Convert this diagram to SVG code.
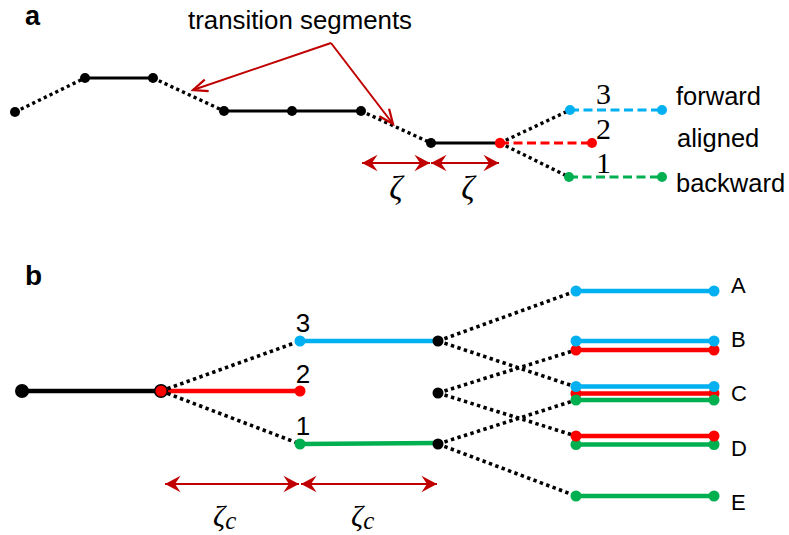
<svg xmlns="http://www.w3.org/2000/svg" width="789" height="535" viewBox="0 0 789 535">
<defs>
<style>
.sans{font-family:"Liberation Sans",Arial,sans-serif;fill:#000}
.serif{font-family:"Liberation Serif","Times New Roman",serif;fill:#000}
.zeta{font-family:"Liberation Serif","DejaVu Serif",serif;font-style:italic;fill:#000}
.dot{stroke:#000;stroke-width:3.4;stroke-dasharray:3.2 3.2;fill:none}
.dotb{stroke:#000;stroke-width:3.6;stroke-dasharray:3.4 3.4;fill:none}
.solid{stroke:#000;stroke-width:3.2;fill:none}
.dash{stroke-width:3.2;stroke-dasharray:9 4.5;fill:none}
.lb{stroke-width:4.3;fill:none}
.arr{stroke:#C00000;stroke-width:2;fill:none}
.blue{stroke:#00B0F0}
.red{stroke:#FF0000}
.green{stroke:#00B050}
.fblue{fill:#00B0F0}
.fred{fill:#FF0000}
.fgreen{fill:#00B050}
.fblack{fill:#000}
</style>
<marker id="open" markerUnits="userSpaceOnUse" markerWidth="20" markerHeight="20" viewBox="-16 -8 18 16" refX="0" refY="0" orient="auto">
<path d="M-13,-5.5 L0,0 L-13,5.5" fill="none" stroke="#C00000" stroke-width="2"/>
</marker>
<marker id="stealth" markerUnits="userSpaceOnUse" markerWidth="20" markerHeight="20" viewBox="-16 -9 18 18" refX="0" refY="0" orient="auto-start-reverse">
<path d="M0,0 L-14,-7.5 L-9,0 L-14,7.5 Z" fill="#C00000"/>
</marker>
</defs>
<rect width="789" height="535" fill="#fff"/>

<!-- Panel a connectors -->
<g id="connectors-a">
<line class="dot" x1="15" y1="112" x2="85" y2="78"/>
<line class="solid" x1="85" y1="78" x2="153" y2="78"/>
<line class="dot" x1="153" y1="78" x2="224" y2="111"/>
<line class="solid" x1="224" y1="111" x2="361" y2="111"/>
<line class="dot" x1="361" y1="111" x2="431" y2="143"/>
<line class="solid" x1="431" y1="143" x2="500" y2="143"/>
<line class="dot" x1="500" y1="143" x2="570" y2="110"/>
<line class="dot" x1="500" y1="143" x2="569" y2="177"/>
<line class="dash blue" x1="570" y1="110" x2="662" y2="110"/>
<line class="dash red" x1="500" y1="143" x2="592" y2="143"/>
<line class="dash green" x1="569" y1="177" x2="662" y2="177"/>
<line class="arr" x1="331" y1="43" x2="393" y2="124" marker-end="url(#open)"/>
<line class="arr" x1="331" y1="43" x2="193" y2="90" marker-end="url(#open)"/>
<line class="arr" x1="362" y1="163" x2="430" y2="163" marker-start="url(#stealth)" marker-end="url(#stealth)"/>
<line class="arr" x1="431" y1="163" x2="499" y2="163" marker-start="url(#stealth)" marker-end="url(#stealth)"/>
</g>

<!-- Panel a nodes -->
<g id="a-n0"><circle class="fblack" cx="15" cy="112" r="5"/></g>
<g id="a-n1"><circle class="fblack" cx="85" cy="78" r="5"/></g>
<g id="a-n2"><circle class="fblack" cx="153" cy="78" r="5"/></g>
<g id="a-n3"><circle class="fblack" cx="224" cy="111" r="5"/></g>
<g id="a-n4"><circle class="fblack" cx="292" cy="111" r="5"/></g>
<g id="a-n5"><circle class="fblack" cx="361" cy="111" r="5"/></g>
<g id="a-n6"><circle class="fblack" cx="431" cy="143" r="5"/></g>
<g id="a-n7"><circle class="fred" cx="500" cy="143" r="5.2"/></g>
<g id="a-fwd"><circle class="fblue" cx="570" cy="110" r="5"/><circle class="fblue" cx="662" cy="110" r="5"/></g>
<g id="a-ali"><circle class="fred" cx="592" cy="143" r="5"/></g>
<g id="a-bwd"><circle class="fgreen" cx="569" cy="177" r="5"/><circle class="fgreen" cx="662" cy="177" r="5"/></g>

<!-- Panel a texts -->
<g id="a-texts">
<text class="sans" x="25" y="25" font-size="27" font-weight="bold">a</text>
<text class="sans" x="188" y="29" font-size="25" textLength="224" lengthAdjust="spacingAndGlyphs">transition segments</text>
<text class="serif" x="596" y="104" font-size="30">3</text>
<text class="serif" x="596" y="139" font-size="30">2</text>
<text class="serif" x="596" y="173" font-size="30">1</text>
<text class="sans" x="676" y="105" font-size="25.5">forward</text>
<text class="sans" x="677" y="147" font-size="25.5">aligned</text>
<text class="sans" x="676" y="192" font-size="25.5">backward</text>
<text class="zeta" x="396" y="199" font-size="33" text-anchor="middle">ζ</text>
<text class="zeta" x="468" y="199" font-size="33" text-anchor="middle">ζ</text>
</g>

<!-- Panel b connectors -->
<g id="connectors-b">
<line class="lb" stroke="#000" stroke-width="4.8" x1="22" y1="391" x2="161" y2="391"/>
<line class="lb red" x1="161" y1="391" x2="300" y2="391"/>
<line class="dotb" x1="161" y1="391" x2="300" y2="341"/>
<line class="dotb" x1="161" y1="391" x2="300" y2="444"/>
<line class="lb blue" x1="300" y1="341" x2="438" y2="341"/>
<line class="lb green" x1="300" y1="444" x2="438" y2="443"/>
<line class="dotb" x1="438" y1="341" x2="576" y2="291"/>
<line class="dotb" x1="438" y1="341" x2="576" y2="387"/>
<line class="dotb" x1="438" y1="393" x2="576" y2="350"/>
<line class="dotb" x1="438" y1="393" x2="576" y2="436"/>
<line class="dotb" x1="438" y1="444" x2="576" y2="400"/>
<line class="dotb" x1="438" y1="444" x2="576" y2="496"/>
<line class="arr" x1="165" y1="484" x2="299" y2="484" marker-start="url(#stealth)" marker-end="url(#stealth)"/>
<line class="arr" x1="301" y1="484" x2="437" y2="484" marker-start="url(#stealth)" marker-end="url(#stealth)"/>
</g>

<!-- Panel b nodes -->
<g id="b-start"><circle class="fblack" cx="22" cy="391" r="7"/></g>
<g id="b-split"><circle class="fred" cx="161" cy="391" r="6.3" stroke="#000" stroke-width="1.5"/></g>
<g id="b-n3"><circle class="fblue" cx="300" cy="341" r="5.5"/></g>
<g id="b-n2"><circle class="fred" cx="300" cy="391" r="5.5"/></g>
<g id="b-n1"><circle class="fgreen" cx="300" cy="444" r="5.5"/></g>
<g id="b-m3"><circle class="fblack" cx="438" cy="341" r="5.5"/></g>
<g id="b-m2"><circle class="fblack" cx="438" cy="393" r="5.5"/></g>
<g id="b-m1"><circle class="fblack" cx="438" cy="444" r="5.5"/></g>
<g id="b-A">
<line class="lb blue" x1="576" y1="291" x2="714" y2="291"/>
<circle class="fblue" cx="576" cy="291" r="5.5"/><circle class="fblue" cx="714" cy="291" r="5.5"/>
</g>
<g id="b-B">
<line class="lb red" x1="576" y1="350" x2="714" y2="350"/>
<circle class="fred" cx="576" cy="350" r="5.5"/><circle class="fred" cx="714" cy="350" r="5.5"/>
<line class="lb blue" x1="576" y1="341" x2="714" y2="341"/>
<circle class="fblue" cx="576" cy="341" r="5.5"/><circle class="fblue" cx="714" cy="341" r="5.5"/>
</g>
<g id="b-C">
<line class="lb red" x1="576" y1="393.5" x2="714" y2="393.5"/>
<circle class="fred" cx="576" cy="393.5" r="5.5"/><circle class="fred" cx="714" cy="393.5" r="5.5"/>
<line class="lb blue" x1="576" y1="386.5" x2="714" y2="386.5"/>
<circle class="fblue" cx="576" cy="386.5" r="5.5"/><circle class="fblue" cx="714" cy="386.5" r="5.5"/>
<line class="lb green" x1="576" y1="400" x2="714" y2="400"/>
<circle class="fgreen" cx="576" cy="400" r="5.5"/><circle class="fgreen" cx="714" cy="400" r="5.5"/>
</g>
<g id="b-D">
<line class="lb green" x1="576" y1="444.5" x2="714" y2="444.5"/>
<circle class="fgreen" cx="576" cy="444.5" r="5.5"/><circle class="fgreen" cx="714" cy="444.5" r="5.5"/>
<line class="lb red" x1="576" y1="436" x2="714" y2="436"/>
<circle class="fred" cx="576" cy="436" r="5.5"/><circle class="fred" cx="714" cy="436" r="5.5"/>
</g>
<g id="b-E">
<line class="lb green" x1="576" y1="496" x2="714" y2="496"/>
<circle class="fgreen" cx="576" cy="496" r="5.5"/><circle class="fgreen" cx="714" cy="496" r="5.5"/>
</g>

<!-- Panel b texts -->
<g id="b-texts">
<text class="sans" x="25" y="285" font-size="28" font-weight="bold">b</text>
<text class="sans" x="303" y="332" font-size="26" text-anchor="middle">3</text>
<text class="sans" x="303" y="383" font-size="26" text-anchor="middle">2</text>
<text class="sans" x="303" y="435" font-size="26" text-anchor="middle">1</text>
<text class="sans" x="731" y="293" font-size="22">A</text>
<text class="sans" x="731" y="347" font-size="22">B</text>
<text class="sans" x="731" y="401" font-size="22">C</text>
<text class="sans" x="731" y="456" font-size="22">D</text>
<text class="sans" x="731" y="510" font-size="22">E</text>
<text class="zeta" x="213" y="526" font-size="30">ζ<tspan font-size="25" dy="3">c</tspan></text>
<text class="zeta" x="351" y="526" font-size="30">ζ<tspan font-size="25" dy="3">c</tspan></text>
</g>
</svg>
